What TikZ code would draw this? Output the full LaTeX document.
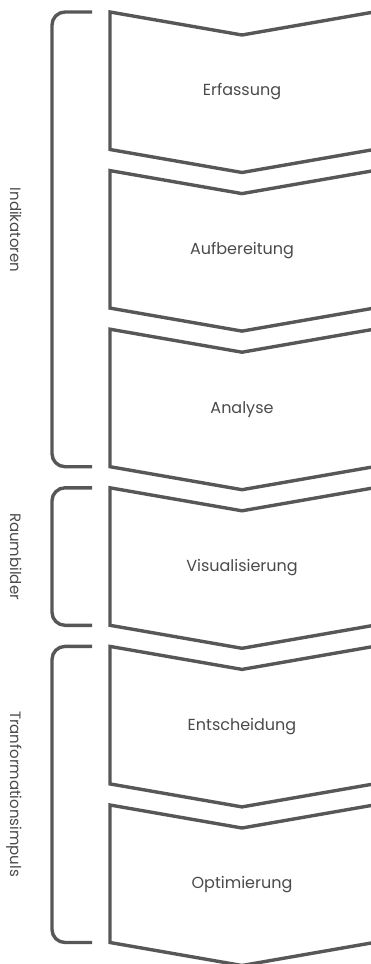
\documentclass[tikz,border=0pt]{standalone}
\usepackage{fontspec}
\setmainfont{Poppins}
\definecolor{linegray}{HTML}{575757}
\definecolor{textgray}{HTML}{4A4A4A}
\begin{document}
\begin{tikzpicture}[x=1pt, y=-1pt, line width=3.4pt,
  stage/.style = {draw=linegray, line join=miter},
  stagetext/.style = {text=textgray, font=\fontsize{16}{19}\selectfont},
  bracket/.style = {draw=linegray, rounded corners=13pt},
  sidetext/.style = {text=textgray, font=\fontsize{15}{18}\selectfont, rotate=-90, anchor=base}]
\useasboundingbox (0,0) rectangle (370,964);
% stages
\foreach \i/\nm/\txt in {0/erfassung/Erfassung, 1/aufbereitung/Aufbereitung, 2/analyse/Analyse,
  3/visualisierung/Visualisierung, 4/entscheidung/Entscheidung, 5/optimierung/Optimierung} {
  \pgfmathsetmacro{\ytop}{12+158.6*\i}
  \draw[stage] (110,\ytop) -- (242,\ytop+23) -- (374,\ytop) -- (374,\ytop+137.5)
    -- (242,\ytop+160.5) -- (110,\ytop+137.5) -- cycle;
  \node[stagetext] (\nm) at (242,\ytop+80) {\txt};
}
% brackets
\draw[bracket] (92,12) -- (52,12) -- (52,466.7) -- (92,466.7);
\draw[bracket] (92,487.8) -- (52,487.8) -- (52,625.3) -- (92,625.3);
\draw[bracket] (92,646.4) -- (52,646.4) -- (52,942.5) -- (92,942.5);
\node[sidetext] (indikatoren) at (10,230) {Indikatoren};
\node[sidetext] (raumbilder) at (10,556.5) {Raumbilder};
\node[sidetext] (impuls) at (10,794) {Tranformationsimpuls};
\end{tikzpicture}
\end{document}
